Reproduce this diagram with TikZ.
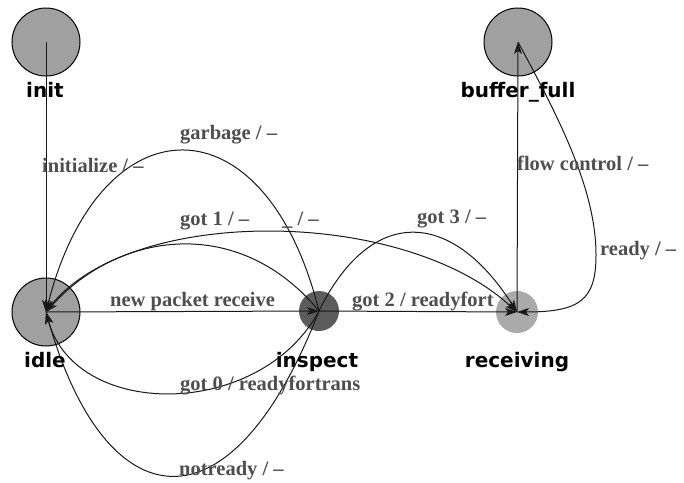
\documentclass[tikz,border=0pt]{standalone}
\usepackage{fontspec}
\setmainfont{Liberation Serif}
\newfontfamily\statefont{DejaVu Sans}
\usetikzlibrary{arrows.meta}
\definecolor{statefill}{RGB}{160,160,160}
\definecolor{inspectfill}{RGB}{92,92,92}
\definecolor{receivefill}{RGB}{170,170,170}
\definecolor{labelgray}{RGB}{78,78,78}
\definecolor{wire}{RGB}{25,25,25}
\tikzset{
  bigstate/.style={circle, draw=black, line width=1pt, fill=statefill, minimum size=68pt, inner sep=0pt},
  inspectstate/.style={circle, fill=inspectfill, minimum size=40pt, inner sep=0pt},
  receivestate/.style={circle, fill=receivefill, minimum size=42pt, inner sep=0pt},
  statename/.style={anchor=base, inner sep=0pt, font=\statefont\bfseries\fontsize{20}{24}\selectfont},
  trans/.style={draw=wire, line width=1pt, -{Stealth[length=12pt,width=8pt,inset=3pt]}},
  translabel/.style={anchor=base west, inner sep=0pt, text=labelgray, font=\bfseries\fontsize{20.5}{24}\selectfont}
}
\begin{document}
\begin{tikzpicture}[x=1pt,y=-1pt]
  \useasboundingbox (0,0) rectangle (684,482);

  % states
  \node[bigstate] (init) at (46,42) {};
  \node[bigstate] (bufferfull) at (518,42) {};
  \node[bigstate] (idle) at (46,312) {};
  \node[inspectstate] (inspect) at (319,311) {};
  \node[receivestate] (receiving) at (517,312) {};

  \node[statename] (initname) at (45,97) {init};
  \node[statename] (bufname) at (518,97) {buffer\_full};
  \node[statename] (idlename) at (45,367) {idle};
  \node[statename] (inspname) at (317,367) {inspect};
  \node[statename] (recvname) at (517,367) {receiving};

  % transitions
  \draw[trans] (init.center) -- (idle.center);
  \draw[trans] (idle.center) -- (inspect.center);
  \draw[trans] (inspect.center) -- (receiving.center);
  \draw[trans] (receiving.center) -- (bufferfull.center);

  \draw[trans] (inspect.center) .. controls (265,95) and (100,100) .. (idle.center);
  \draw[trans] (inspect.center) .. controls (240,215) and (120,230) .. (idle.center);
  \draw[trans] (idle.center) .. controls (120,205) and (400,205) .. (receiving.center);
  \draw[trans] (inspect.center) .. controls (370,207) and (450,207) .. (receiving.center);
  \draw[trans] (inspect.center) .. controls (260,420) and (75,420) .. (idle.center);
  \draw[trans] (inspect.center) .. controls (230,540) and (105,520) .. (idle.center);

  \coordinate (readybend) at (596,255);
  \draw[trans] (bufferfull.center) .. controls (560,120) and (596,190) .. (readybend)
               .. controls (596,300) and (580,312) .. (receiving.center);

  % transition labels
  \node[translabel] (linit) at (42,172) {initialize / –};
  \node[translabel] (lgarbage) at (180,139) {garbage / –};
  \node[translabel] (lgot1) at (180,225) {got 1 / –};
  \node[translabel] (lany) at (282,225) {\_ / –};
  \node[translabel] (lgot3) at (417,223) {got 3 / –};
  \node[translabel] (lnew) at (110,306) {new packet receive};
  \node[translabel] (lgot2) at (352,306) {got 2 / readyfort};
  \node[translabel] (lflow) at (517,170) {flow control / –};
  \node[translabel] (lready) at (600,255) {ready / –};
  \node[translabel] (lgot0) at (180,390) {got 0 / readyfortrans};
  \node[translabel] (lnotready) at (179,475) {notready / –};
\end{tikzpicture}
\end{document}
